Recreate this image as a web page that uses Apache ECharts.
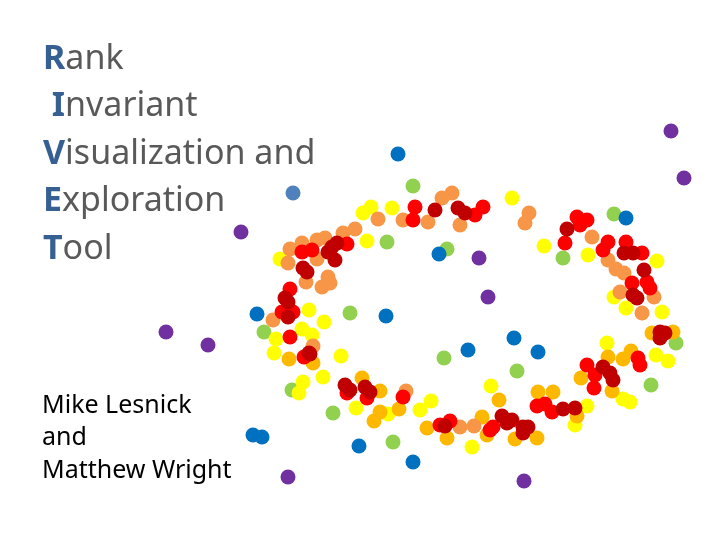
<!DOCTYPE html>
<html>
<head>
<meta charset="utf-8">
<script src="https://cdn.jsdelivr.net/npm/echarts@6/dist/echarts.min.js"></script>
<style>
  html, body { margin: 0; padding: 0; background: #fff; }
  #chart { width: 720px; height: 540px; }
</style>
</head>
<body>
<div id="chart"></div>
<script>
// point positions (x, y in slide pixels, y grows downward)
var darkRed = [[435,210],[458,208],[465,213],[332,247],[337,243],[335,260],[328,252],[303,268],[307,272],
  [285,298],[288,302],[288,317],[309,353],[567,229],[624,253],[633,253],[644,270],[633,295],[637,298],
  [660,332],[660,338],[665,333],[603,367],[610,373],[613,380],[502,416],[512,420],[507,423],[523,427],
  [528,427],[523,433],[563,409],[575,408],[345,385],[350,390],[365,387],[370,392],[445,426],[310,354]]
var red = [[415,207],[413,220],[483,207],[475,215],[302,252],[312,250],[347,244],[290,289],[282,312],
  [293,312],[290,337],[304,357],[577,217],[587,220],[580,225],[565,243],[608,242],[603,250],[626,242],
  [642,253],[632,283],[647,282],[650,288],[638,358],[640,365],[587,365],[595,375],[594,388],[537,406],
  [545,404],[552,412],[493,427],[490,430],[347,393],[367,398],[403,397],[440,425],[450,421]]
var orange = [[378,219],[403,220],[428,222],[442,198],[452,193],[460,225],[355,229],[343,233],[325,238],
  [317,240],[302,243],[290,249],[288,263],[317,259],[306,282],[328,277],[322,287],[330,283],[273,320],
  [313,346],[529,213],[525,223],[592,237],[608,260],[616,269],[624,273],[620,292],[654,297],[642,313],
  [406,391],[460,427],[474,426]]
var amber = [[289,359],[313,363],[362,378],[380,391],[380,412],[374,421],[399,409],[427,428],[447,438],
  [652,333],[673,332],[608,357],[631,351],[623,359],[581,378],[612,391],[538,392],[553,392],[499,400],
  [577,416],[482,417],[487,435],[515,439],[537,438]]
var yellow = [[363,213],[371,207],[392,208],[367,241],[280,259],[309,310],[324,322],[276,339],[302,329],
  [312,335],[274,353],[341,356],[512,198],[544,246],[588,255],[657,261],[614,297],[626,308],[662,312],
  [607,343],[656,355],[668,361],[491,386],[575,425],[587,406],[623,399],[630,402],[323,377],[303,382],
  [299,393],[356,408],[388,414],[420,410],[431,401],[472,447]]
var green = [[413,186],[387,242],[447,249],[350,313],[264,332],[444,358],[614,214],[563,258],[676,343],
  [517,371],[651,385],[292,390],[333,413],[393,442]]
var blue = [[398,154],[439,254],[257,314],[386,316],[468,350],[626,218],[514,338],[538,352],[253,435],
  [262,437],[359,446],[413,462]]
var steelBlue = [[293,193]]
var purple = [[671,131],[684,178],[241,232],[479,258],[488,297],[166,332],[208,345],[288,477],[524,481]]

var titleLines = [['R', 'ank'], [' I', 'nvariant'], ['V', 'isualization and'], ['E', 'xploration'], ['T', 'ool']]
var authorLines = ['Mike Lesnick', 'and', 'Matthew Wright']

var chart = echarts.init(document.getElementById('chart'))

function dots(data, color) {
  return {
    type: 'scatter',
    data: data,
    symbolSize: 15,
    itemStyle: { color: color, opacity: 1 },
    silent: true,
    animation: false
  }
}

var graphics = []
titleLines.forEach(function (l, i) {
  graphics.push({
    type: 'text',
    left: 43,
    top: 42 + i * 47.5,
    style: {
      text: '{a|' + l[0] + '}{b|' + l[1] + '}',
      rich: {
        a: { fontFamily: 'Noto Sans', fontSize: 34, fontWeight: 'bold', fill: '#376092' },
        b: { fontFamily: 'Noto Sans', fontSize: 34, fill: '#595959' }
      }
    }
  })
})
authorLines.forEach(function (t, i) {
  graphics.push({
    type: 'text',
    left: 42,
    top: 393 + i * 32.5,
    style: { text: t, fontFamily: 'Noto Sans', fontSize: 25, fill: '#000' }
  })
})

chart.setOption({
  animation: false,
  grid: { left: 0, right: 0, top: 0, bottom: 0 },
  xAxis: { type: 'value', min: 0, max: 720, show: false },
  yAxis: { type: 'value', min: 0, max: 540, inverse: true, show: false },
  graphic: graphics,
  series: [
    dots(green, '#92D050'),
    dots(blue, '#0070C0'),
    dots(steelBlue, '#4F81BD'),
    dots(purple, '#7030A0'),
    dots(yellow, '#FFFF00'),
    dots(amber, '#FFB800'),
    dots(orange, '#F79646'),
    dots(red, '#FF0000'),
    dots(darkRed, '#C00000')
  ]
})
</script>
</body>
</html>
